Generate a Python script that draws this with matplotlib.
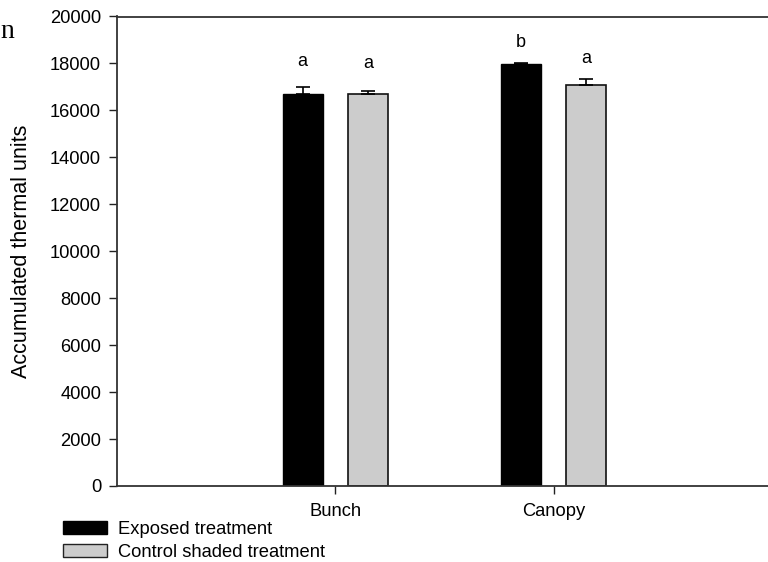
import numpy as np
import matplotlib.pyplot as plt
from matplotlib.patches import Patch

plt.rcParams['font.family'] = ['Liberation Sans', 'DejaVu Sans']

# data
sites = ['Bunch', 'Canopy']
exposed = [16716, 17982]
exposed_err = [300, 56]
control = [16686, 17100]
control_err = [158, 227]
exposed_letters = ['a', 'b']
control_letters = ['a', 'a']
exposed_letter_y = [17880, 18680]
control_letter_y = [17810, 18000]

x = np.arange(1, len(sites) + 1)
w = 0.183
off = 0.15

fig = plt.figure(figsize=(7.68, 5.62), dpi=100)
ax = fig.add_axes([117/768, 1 - 486/562, 655/768, 469.5/562])

ax.bar(x - off, exposed, w, color='black', edgecolor='black', linewidth=1.0,
       yerr=[np.zeros(2), exposed_err], capsize=4.7,
       error_kw=dict(ecolor='black', elinewidth=1.2, capthick=1.2))
ax.bar(x + off, control, w, color='#cccccc', edgecolor='#111111', linewidth=1.2,
       yerr=[np.zeros(2), control_err], capsize=4.7,
       error_kw=dict(ecolor='black', elinewidth=1.2, capthick=1.2))

for i in range(len(sites)):
    ax.text(x[i] - off, exposed_letter_y[i], exposed_letters[i], ha='center',
            va='baseline', fontsize=13)
    ax.text(x[i] + off, control_letter_y[i], control_letters[i], ha='center',
            va='baseline', fontsize=13)

ax.set_xlim(0, 3)
ax.set_ylim(0, 20000)
ax.set_yticks(np.arange(0, 20001, 2000))
ax.set_xticks(x)
ax.set_xticklabels(sites)
ax.tick_params(axis='both', direction='out', length=5.5, width=1.0,
               labelsize=13.2, colors='#222222', labelcolor='black')
ax.tick_params(axis='y', pad=6)
ax.tick_params(axis='x', pad=7)
ax.set_ylabel('Accumulated thermal units', fontsize=15.5)
ax.yaxis.set_label_coords(-(117 - 32) / 655, 0.5)
for s in ['left', 'top', 'bottom']:
    ax.spines[s].set_linewidth(1.3)
    ax.spines[s].set_color('#333333')
ax.spines['right'].set_visible(False)

handles = [Patch(facecolor='black', edgecolor='black', label='Exposed treatment'),
           Patch(facecolor='#cccccc', edgecolor='#222222',
                 label='Control shaded treatment')]
fig.legend(handles=handles, loc='upper left', bbox_to_anchor=(63/768, 1 - 521/562),
           frameon=False, fontsize=13.2, handlelength=2.4, handleheight=0.75,
           handletextpad=0.6, labelspacing=0.3, borderpad=0, borderaxespad=0)

fig.text(7/768, 1 - 31/562, 'n', family='Liberation Serif', fontsize=20,
         ha='center', va='center')

fig.savefig('out.png', dpi=100)
